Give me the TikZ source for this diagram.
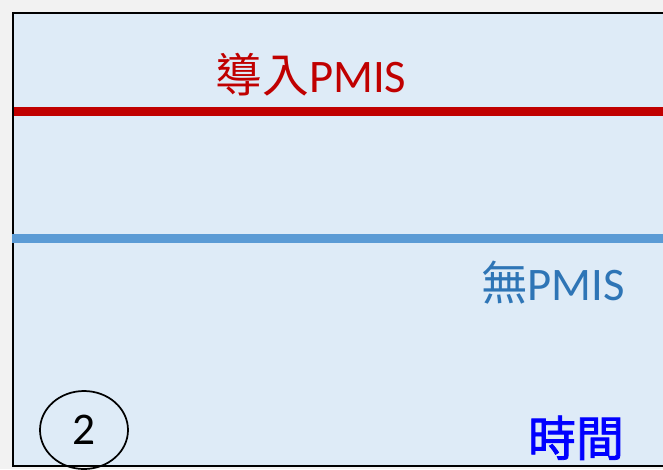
\documentclass[tikz,border=0pt]{standalone}
\usepackage{fontspec}
\setmainfont{Carlito}
\newfontfamily\cjk{Noto Sans CJK TC}
\newfontfamily\cjkheavy[FakeBold=1.6]{Noto Sans CJK TC}
\usetikzlibrary{shapes.geometric}
\definecolor{pagegray}{HTML}{F2F2F2}
\definecolor{panelblue}{HTML}{DEEBF7}
\definecolor{pmisred}{HTML}{C00000}
\definecolor{lineblue}{HTML}{5B9BD5}
\definecolor{textblue}{HTML}{2E75B6}
\begin{document}
\begin{tikzpicture}[
			x=0.75pt, y=-0.75pt,
			label/.style = {font=\fontsize{35}{40}\selectfont, inner sep=0pt, anchor=base},
			curve/.style = {line width=6.75pt},
			stage/.style = {draw, ellipse, line width=1.3pt, minimum width=66pt, minimum height=58.5pt, inner sep=0pt, font=\fontsize{34}{40}\selectfont},
			]
			\fill[pagegray] (0,0) rectangle (663,469);
			\useasboundingbox (0,0) rectangle (663,469);
			% panel
			\fill[panelblue] (13,13) rectangle (663,466);
			\draw[line width=1.5pt] (663,13) -- (13,13) -- (13,466) -- (663,466);
			% the two lines
			\draw[curve, pmisred] (14,111.5) -- (663,111.5);
			\draw[curve, lineblue] (12,238.5) -- (663,238.5);
			\node[label, pmisred] (with) at (311,92) {{\cjk 導入}PMIS};
			\node[label, textblue] (without) at (553,300) {{\cjk 無}PMIS};
			\node[label, blue, font=\fontsize{36}{40}\selectfont] (time) at (576,456) {\cjkheavy 時間};
			\node[stage] (num) at (84,430) {2};
		\end{tikzpicture}
\end{document}
